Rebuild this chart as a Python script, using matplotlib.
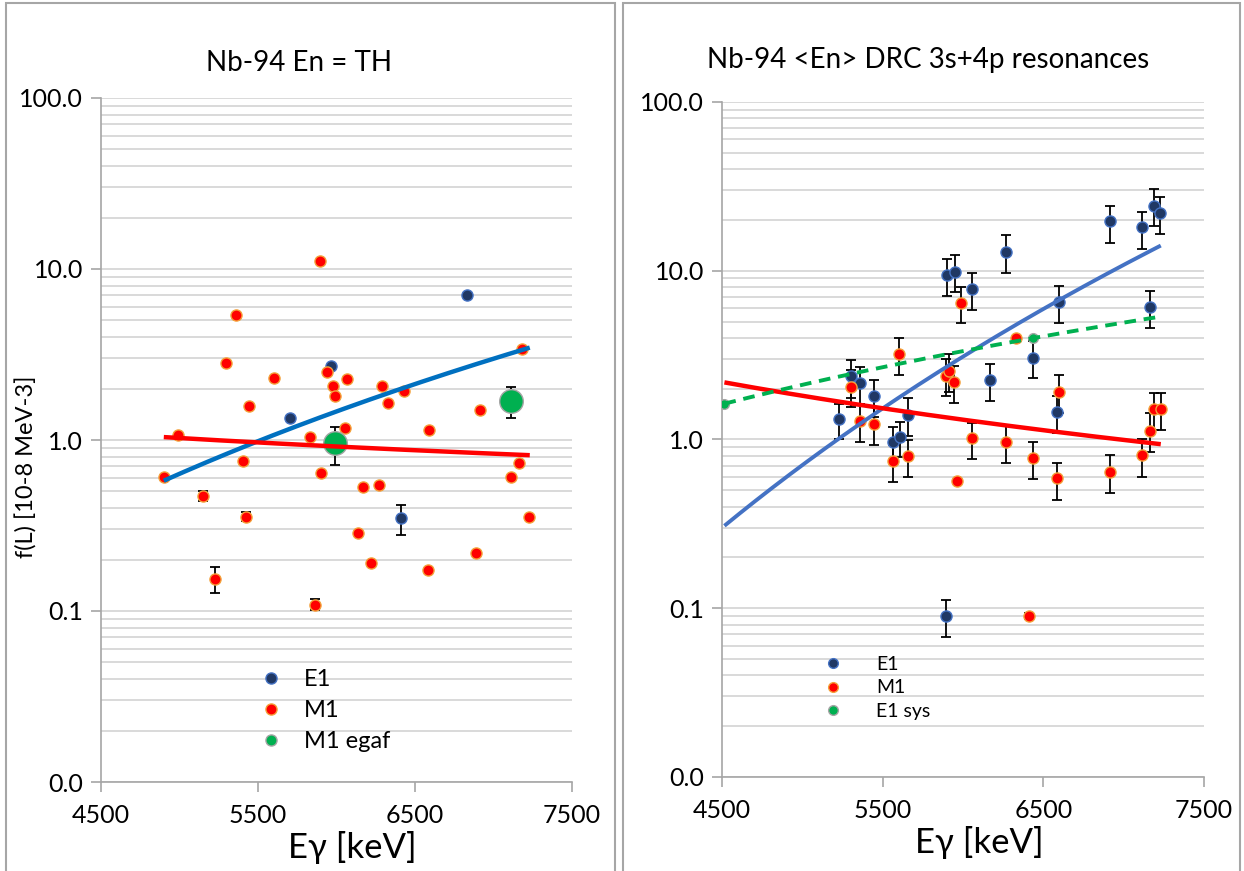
import numpy as np
import matplotlib.pyplot as plt
from matplotlib.lines import Line2D
from matplotlib.patches import Rectangle
from matplotlib.ticker import LogLocator, NullFormatter

plt.rcParams['font.family'] = ['Lato', 'Open Sans', 'DejaVu Sans']

# ---- left panel: Nb-94 En = TH ----
L_e1_x = [6831, 5965, 5706, 6408]
L_e1_y = [7.05, 2.71, 1.34, 0.348]
L_e1_lo = [7.05, 2.71, 1.34, 0.279]
L_e1_hi = [7.05, 2.71, 1.34, 0.417]

L_m1_x = [5892, 5363, 5298, 5942, 5605, 6066, 5980, 6287, 7183, 5993, 6428, 6330,
          5444, 6911, 6056, 6592, 5834, 4991, 5406, 4900, 5904, 6166, 6269, 7110,
          7165, 5149, 5424, 7223, 6139, 6891, 6219, 6584, 5227, 5864]
L_m1_y = [11.2, 5.38, 2.82, 2.50, 2.29, 2.27, 2.06, 2.06, 3.40, 1.81, 1.93, 1.65,
          1.59, 1.50, 1.17, 1.14, 1.04, 1.065, 0.754, 0.61, 0.641, 0.531, 0.544, 0.605,
          0.737, 0.469, 0.356, 0.355, 0.285, 0.219, 0.191, 0.174, 0.154, 0.109]
L_m1_lo = list(L_m1_y)
L_m1_hi = list(L_m1_y)
L_m1_lo[25], L_m1_hi[25] = 0.44, 0.50
L_m1_lo[26], L_m1_hi[26] = 0.335, 0.38
L_m1_lo[32], L_m1_hi[32] = 0.128, 0.18
L_m1_lo[33], L_m1_hi[33] = 0.101, 0.117

L_egaf_x = [5993, 7113]
L_egaf_y = [0.96, 1.68]
L_egaf_lo = [0.71, 1.34]
L_egaf_hi = [1.19, 2.04]

# power-law trend lines (x_start, x_end, y_start, y_end)
L_trend_e1 = (4900, 7231, 0.578, 3.47)
L_trend_m1 = (4900, 7231, 1.04, 0.815)

# ---- right panel: Nb-94 <En> DRC 3s+4p resonances ----
R_e1_x = [7188, 7228, 6917, 7114, 6269, 5903, 5948, 6057, 6595, 7166, 6435,
          6170, 5303, 5362, 5444, 6588, 5226, 5656, 5567, 5607, 5894]
R_e1_y = [24.3, 22.1, 19.6, 18.1, 12.9, 9.45, 9.89, 7.77, 6.57, 6.13, 3.06,
          2.25, 2.38, 2.16, 1.81, 1.45, 1.33, 1.40, 0.964, 1.03, 0.0897]
R_e1_lo = [18.3, 16.5, 14.7, 13.5, 9.7, 7.1, 7.46, 5.86, 4.93, 4.61, 2.30,
           1.68, 1.77, 1.62, 1.36, 1.09, 1.00, 1.05, 0.76, 0.79, 0.0673]
R_e1_hi = [30.4, 27.5, 24.3, 22.4, 16.2, 11.8, 12.4, 9.7, 8.13, 7.63, 3.82,
           2.79, 2.94, 2.68, 2.25, 1.80, 1.63, 1.75, 1.19, 1.27, 0.112]

R_m1_x = [5990, 6329, 5602, 5894, 5915, 5946, 5303, 6595, 7188, 7231, 5360, 5444,
          7166, 6055, 6269, 5567, 5656, 5963, 6435, 6588, 6917, 7114, 6410]
R_m1_y = [6.48, 4.02, 3.19, 2.39, 2.55, 2.19, 2.06, 1.92, 1.51, 1.51, 1.28, 1.24,
          1.13, 1.02, 0.973, 0.748, 0.797, 0.567, 0.772, 0.588, 0.646, 0.808, 0.0897]
R_m1_lo = [4.89, 4.02, 2.40, 1.80, 1.90, 1.64, 1.55, 1.44, 1.14, 1.14, 0.96, 0.93,
           0.84, 0.77, 0.73, 0.56, 0.60, 0.567, 0.58, 0.44, 0.485, 0.60, 0.086]
R_m1_hi = [8.06, 4.02, 3.98, 3.00, 3.20, 2.73, 2.58, 2.40, 1.88, 1.88, 1.60, 1.55,
           1.43, 1.26, 1.21, 0.93, 0.99, 0.567, 0.97, 0.73, 0.81, 1.00, 0.094]

R_sys_x = [4515, 6435]
R_sys_y = [1.63, 4.02]

R_trend_e1 = (4515, 7231, 0.308, 14.1)
R_trend_m1 = (4515, 7231, 2.18, 0.938)
R_trend_sys = (4515, 7231, 1.63, 5.35)

x_ticks = [4500, 5500, 6500, 7500]
y_ticks = [0.01, 0.1, 1, 10, 100]
y_labels = ['0.0', '0.1', '1.0', '10.0', '100.0']

E1_FACE, E1_EDGE = '#203864', '#4472c4'
M1_FACE, M1_EDGE = '#ff0000', '#f4a13a'
GR_FACE, GR_EDGE = '#00b050', '#a5a5a5'

W, H = 1244, 871
fig = plt.figure(figsize=(W / 100, H / 100), dpi=100)

# chart frames (two Excel chart objects side by side)
for x0, x1 in [(6, 615), (623, 1240)]:
    fig.add_artist(Rectangle((x0 / W, -0.01), (x1 - x0) / W, 1.0 - 3 / H + 0.01,
                             transform=fig.transFigure, fill=False,
                             ec='#a6a6a6', lw=1.5))

ax1 = fig.add_axes([101 / W, 1 - 782 / H, 471 / W, (782 - 98) / H])
ax2 = fig.add_axes([722 / W, 1 - 777 / H, 482 / W, (777 - 102) / H])


def style(ax):
    ax.set_yscale('log')
    ax.set_ylim(0.01, 100)
    ax.set_xlim(4500, 7500)
    ax.set_xticks(x_ticks)
    ax.set_yticks(y_ticks)
    ax.set_yticklabels(y_labels)
    ax.yaxis.set_minor_locator(LogLocator(base=10, subs=range(2, 10)))
    ax.yaxis.set_minor_formatter(NullFormatter())
    ax.grid(which='both', axis='y', color='#d9d9d9', lw=1.4)
    ax.set_axisbelow(True)
    ax.tick_params(which='minor', length=0)
    ax.tick_params(axis='y', which='major', length=7, width=1.2, color='#a6a6a6',
                   labelsize=18, pad=6)
    ax.tick_params(axis='x', which='major', length=7, width=1.2, color='#a6a6a6',
                   labelsize=18, pad=9)
    for s in ['top', 'right']:
        ax.spines[s].set_visible(False)
    for s in ['left', 'bottom']:
        ax.spines[s].set_color('#a6a6a6')
        ax.spines[s].set_linewidth(1.2)


def errpts(ax, x, y, lo, hi, face, edge, ms):
    y = np.array(y)
    yerr = [y - np.array(lo), np.array(hi) - y]
    ax.errorbar(x, y, yerr=yerr, fmt='none', ecolor='black', elinewidth=1.3,
                capsize=3.8, capthick=1.3, zorder=2)
    ax.plot(x, y, 'o', ms=ms, mfc=face, mec=edge, mew=1.0, ls='none', zorder=3)


def trend(ax, t, color, ls='-', lw=3.2):
    # Excel power trendline y = a * x^b passing through the read end points
    x0, x1, y0, y1 = t
    b = np.log(y1 / y0) / np.log(x1 / x0)
    xs = np.linspace(x0, x1, 200)
    ax.plot(xs, y0 * (xs / x0) ** b, color=color, ls=ls, lw=lw, zorder=4,
            solid_capstyle='butt')


style(ax1)
style(ax2)

# left panel
errpts(ax1, L_e1_x, L_e1_y, L_e1_lo, L_e1_hi, E1_FACE, E1_EDGE, 8)
errpts(ax1, L_m1_x, L_m1_y, L_m1_lo, L_m1_hi, M1_FACE, M1_EDGE, 8)
errpts(ax1, L_egaf_x, L_egaf_y, L_egaf_lo, L_egaf_hi, GR_FACE, GR_EDGE, 17)
trend(ax1, L_trend_e1, '#0070c0')
trend(ax1, L_trend_m1, '#ff0000')

# right panel
errpts(ax2, R_e1_x, R_e1_y, R_e1_lo, R_e1_hi, E1_FACE, E1_EDGE, 8)
errpts(ax2, R_m1_x, R_m1_y, R_m1_lo, R_m1_hi, M1_FACE, M1_EDGE, 8)
ax2.plot(R_sys_x, R_sys_y, 'o', ms=7, mfc=GR_FACE, mec=GR_EDGE, mew=1.0, ls='none', zorder=3)
trend(ax2, R_trend_e1, '#4472c4', lw=2.8)
trend(ax2, R_trend_m1, '#ff0000', lw=3.2)
trend(ax2, R_trend_sys, '#00b050', ls=(0, (3, 2)), lw=2.8)


def handles(entries, ms):
    return [Line2D([], [], marker='o', ls='none', ms=ms, mfc=f, mec=e, mew=1.0)
            for f, e in entries]


ax1.legend(handles([(E1_FACE, E1_EDGE), (M1_FACE, M1_EDGE), (GR_FACE, GR_EDGE)], 8),
           ['E1', 'M1', 'M1 egaf'], loc='upper left',
           bbox_to_anchor=(260 / W, 1 - 669 / H), bbox_transform=fig.transFigure,
           frameon=False, fontsize=17, handlelength=0.95, handletextpad=0.9,
           labelspacing=0.43, borderpad=0, borderaxespad=0)
ax2.legend(handles([(E1_FACE, E1_EDGE), (M1_FACE, M1_EDGE), (GR_FACE, GR_EDGE)], 7),
           ['E1', 'M1', 'E1 sys'], loc='upper left',
           bbox_to_anchor=(823 / W, 1 - 656 / H), bbox_transform=fig.transFigure,
           frameon=False, fontsize=14, handlelength=1.0, handletextpad=1.75,
           labelspacing=0.33, borderpad=0, borderaxespad=0)

# titles and axis titles
fig.text(299 / W, 1 - 63 / H, 'Nb-94 En = TH', fontsize=20, ha='center', va='center')
fig.text(928 / W, 1 - 60 / H, 'Nb-94 <En> DRC 3s+4p resonances', fontsize=20,
         ha='center', va='center')
fig.text(352 / W, 1 - 847 / H, 'Eγ [keV]', fontsize=25, ha='center', va='center')
fig.text(979 / W, 1 - 842 / H, 'Eγ [keV]', fontsize=25, ha='center', va='center')
fig.text(27 / W, 1 - 467 / H, 'f(L) [10-8 MeV-3]', fontsize=17, rotation=90,
         ha='center', va='center')

fig.savefig('out.png', dpi=100)
